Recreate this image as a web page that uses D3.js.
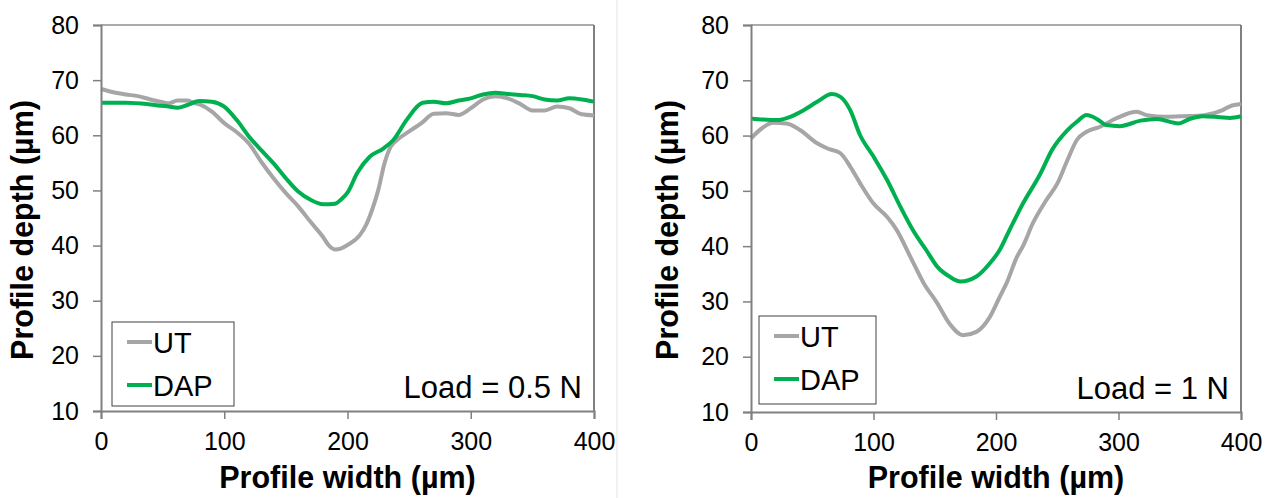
<!DOCTYPE html>
<html>
<head>
<meta charset="utf-8">
<script src="https://cdn.jsdelivr.net/npm/d3@7"></script>
<style>
  body { margin: 0; background: #fff; }
  svg { display: block; font-family: "Liberation Sans", Arial, sans-serif; }
</style>
</head>
<body>
<svg id="chart" width="1265" height="498"></svg>
<script>
// ---- data ----
var yTicks = [10, 20, 30, 40, 50, 60, 70, 80];
var xTicks = [0, 100, 200, 300, 400];
var seriesNames = ["UT", "DAP"];
var loadLabels = ["Load = 0.5 N", "Load = 1 N"];

// load 0.5 N
var ut05_x = [0,10,20,30,40,50,55,62,70,75,80,90,100,110,120,130,140,150,160,170,180,185,190,195,200,210,215,220,225,230,235,240,250,260,270,280,290,300,310,320,330,340,350,360,370,380,390,400];
var ut05_y = [68.4,67.8,67.4,67.1,66.5,66.0,65.8,66.3,66.3,65.9,65.6,64.3,62.2,60.6,58.5,55.2,52.2,49.5,47.1,44.3,41.6,40.0,39.3,39.5,40.1,41.9,43.7,46.5,50.1,54.9,57.9,59.1,60.7,62.2,63.9,64.0,63.7,64.9,66.5,67.1,66.7,65.7,64.5,64.5,65.2,64.9,63.8,63.6];
var dap05_x = [0,20,40,55,62,70,80,90,100,110,120,130,140,150,160,170,180,190,195,200,208,218,229,237,248,261,270,280,290,300,310,320,330,340,350,360,370,380,390,400];
var dap05_y = [65.9,65.9,65.6,65.2,65.0,65.5,66.2,66.1,65.2,62.8,59.8,57.3,54.9,52.2,49.8,48.3,47.5,47.6,48.4,49.6,53.2,56.1,57.6,59.1,62.8,65.9,66.1,65.8,66.3,66.7,67.4,67.7,67.5,67.3,67.1,66.5,66.3,66.7,66.5,66.1];

// load 1 N
var ut1_x = [0,10,18,29,40,54,62,73,81,89,100,111,119,130,141,152,162,173,184,195,203,209,217,222,230,241,250,258,266,274,285,298,315,323,339,353,370,385,391,400];
var ut1_y = [59.5,61.5,62.3,62.2,61.0,58.6,57.7,56.8,54.4,51.4,47.7,45.3,42.9,38.1,33.3,29.7,26.0,23.9,24.5,27.2,30.8,33.5,38.0,40.0,44.1,48.3,51.3,55.4,59.2,60.7,61.6,63.1,64.3,63.7,63.4,63.5,63.7,64.6,65.3,65.7];
var dap1_x = [0,10,21,32,43,54,66,73,81,89,100,111,122,133,143,152,162,171,184,195,203,211,222,236,246,258,266,274,279,285,290,301,318,331,349,358,369,383,391,400];
var dap1_y = [63.1,62.9,62.8,63.4,64.6,66.1,67.5,67.0,64.6,60.1,56.2,52.0,47.1,42.6,39.3,36.3,34.5,33.6,34.5,36.9,39.3,42.9,47.7,53.0,57.5,60.9,62.5,63.7,63.4,62.6,61.9,61.7,62.7,63.0,62.2,63.0,63.5,63.3,63.2,63.5];

var colors = { UT: "#a6a6a6", DAP: "#00b050" };

function zip(xs, ys) { return xs.map(function(v, i) { return [v, ys[i]]; }); }

var panels = [
  { x0: 101, x1: 594, y0: 25, y1: 411, titleX: 33, load: loadLabels[0],
    series: [zip(ut05_x, ut05_y), zip(dap05_x, dap05_y)],
    legend: { x: 112, y: 322, w: 122, h: 84 } },
  { x0: 751, x1: 1241, y0: 25, y1: 412, titleX: 678, load: loadLabels[1],
    series: [zip(ut1_x, ut1_y), zip(dap1_x, dap1_y)],
    legend: { x: 759, y: 316, w: 117, h: 88 } }
];

var svg = d3.select("#chart");

// faint divider between the two panels
svg.append("line")
  .attr("x1", 617).attr("x2", 617).attr("y1", 0).attr("y2", 498)
  .attr("stroke", "#e3e3e3").attr("stroke-width", 1);

panels.forEach(function(p) {
  var x = d3.scaleLinear().domain([0, 400]).range([p.x0, p.x1]);
  var y = d3.scaleLinear().domain([10, 80]).range([p.y1, p.y0]);
  var g = svg.append("g");

  // top + right border of plot area
  g.append("line").attr("x1", p.x0).attr("x2", p.x1).attr("y1", p.y0).attr("y2", p.y0)
    .attr("stroke", "#595959").attr("stroke-width", 1.2);
  g.append("line").attr("x1", p.x1).attr("x2", p.x1).attr("y1", p.y0).attr("y2", p.y1)
    .attr("stroke", "#808080").attr("stroke-width", 2);

  var line = d3.line()
    .x(function(d) { return x(d[0]); })
    .y(function(d) { return y(d[1]); })
    .curve(d3.curveMonotoneX);

  p.series.forEach(function(s, i) {
    g.append("path")
      .datum(s)
      .attr("fill", "none")
      .attr("stroke", colors[seriesNames[i]])
      .attr("stroke-width", 4)
      .attr("stroke-linejoin", "round")
      .attr("d", line);
  });

  var yAxis = g.append("g")
    .attr("transform", "translate(" + p.x0 + ",0)")
    .call(d3.axisLeft(y).tickValues(yTicks).tickSize(8).tickPadding(14));
  var xAxis = g.append("g")
    .attr("transform", "translate(0," + p.y1 + ")")
    .call(d3.axisBottom(x).tickValues(xTicks).tickSize(8).tickPadding(13));

  [yAxis, xAxis].forEach(function(a) {
    a.select(".domain").attr("stroke", "#808080").attr("stroke-width", 2);
    a.selectAll(".tick line").attr("stroke", "#808080").attr("stroke-width", 1.5);
    a.selectAll(".tick text").attr("fill", "#000").style("font-size", "25px")
      .style("font-family", "'Liberation Sans', Arial, sans-serif");
  });

  // axis titles
  g.append("text")
    .attr("x", (p.x0 + p.x1) / 2).attr("y", 488)
    .attr("text-anchor", "middle")
    .style("font-size", "30.5px").style("font-weight", "bold")
    .text("Profile width (\u00b5m)");
  g.append("text")
    .attr("transform", "translate(" + p.titleX + ",230) rotate(-90)")
    .attr("text-anchor", "middle")
    .style("font-size", "30.5px").style("font-weight", "bold")
    .text("Profile depth (\u00b5m)");

  // load annotation
  g.append("text")
    .attr("x", p.x1 - 12).attr("y", p.y1 - 13)
    .attr("text-anchor", "end")
    .style("font-size", "31px")
    .text(p.load);

  // legend
  var L = p.legend;
  var lg = g.append("g");
  lg.append("rect")
    .attr("x", L.x).attr("y", L.y).attr("width", L.w).attr("height", L.h)
    .attr("fill", "#fff").attr("stroke", "#404040").attr("stroke-width", 1);
  seriesNames.forEach(function(name, i) {
    var ly = L.y + 20 + i * 43;
    lg.append("line")
      .attr("x1", L.x + 15).attr("x2", L.x + 40)
      .attr("y1", ly).attr("y2", ly)
      .attr("stroke", colors[name]).attr("stroke-width", 4);
    lg.append("text")
      .attr("x", L.x + 41).attr("y", ly + 10.5)
      .style("font-size", "29px")
      .text(name);
  });
});
</script>
</body>
</html>
